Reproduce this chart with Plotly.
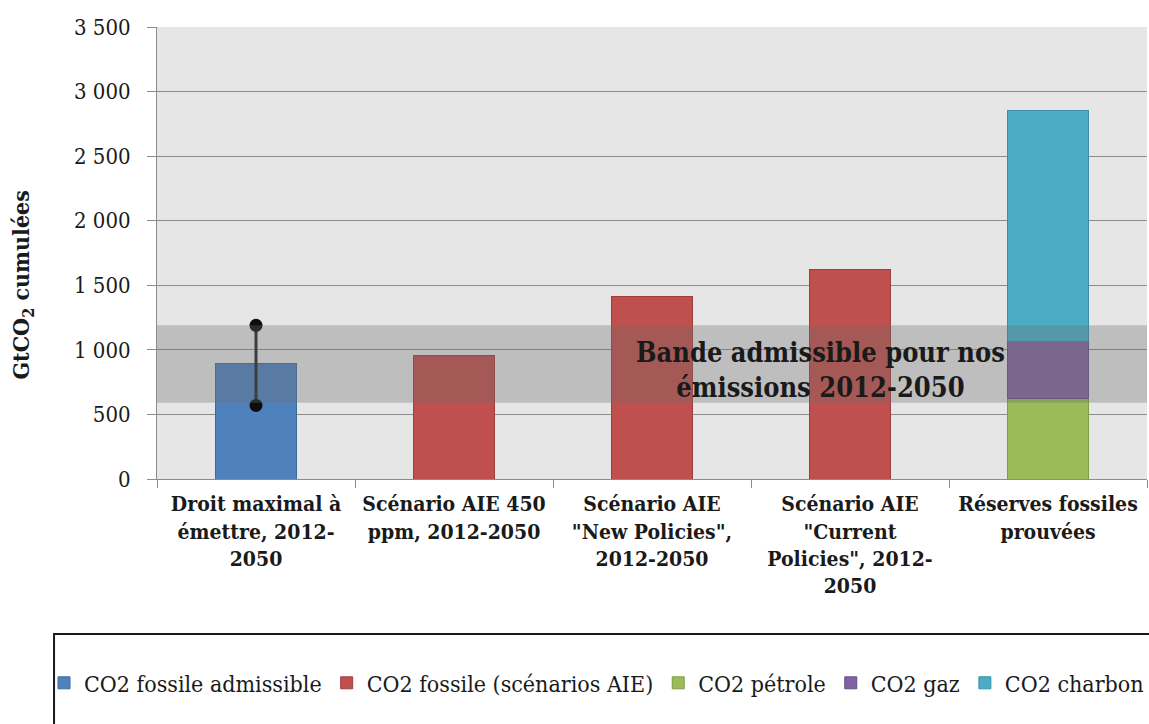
import plotly.graph_objects as go

# ---- data ----
categories = [
    "Droit maximal à<br>émettre, 2012-<br>2050",
    "Scénario AIE 450<br>ppm, 2012-2050",
    "Scénario AIE<br>\"New Policies\",<br>2012-2050",
    "Scénario AIE<br>\"Current<br>Policies\", 2012-<br>2050",
    "Réserves fossiles<br>prouvées",
]
admissible_vals = [895]                 # CO2 fossile admissible
aie_vals = [955, 1410, 1625]            # CO2 fossile (scénarios AIE)
petrole_vals = [620]                    # CO2 pétrole
gaz_vals = [445]                        # CO2 gaz
charbon_vals = [1785]                   # CO2 charbon
range_low_high = [570, 1190]            # fourchette (droit maximal)
band_low_high = [590, 1190]             # bande admissible
y_tickvals = [0, 500, 1000, 1500, 2000, 2500, 3000, 3500]
y_ticktext = ["0", "500", "1 000", "1 500", "2 000", "2 500", "3 000", "3 500"]

FONT = "DejaVu Serif Condensed, DejaVu Serif, serif"

fig = go.Figure()
fig.add_trace(go.Bar(
    x=categories[:1], y=admissible_vals, name="CO2 fossile admissible",
    marker=dict(color="#4F81BD", line=dict(color="#3C6A9E", width=1)),
))
fig.add_trace(go.Bar(
    x=categories[1:4], y=aie_vals, name="CO2 fossile (scénarios AIE)",
    marker=dict(color="#C0504D", line=dict(color="#A03E3B", width=1)),
))
fig.add_trace(go.Bar(
    x=categories[4:], y=petrole_vals, name="CO2 pétrole",
    marker=dict(color="#9BBB59", line=dict(color="#7F9C45", width=1)),
))
fig.add_trace(go.Bar(
    x=categories[4:], y=gaz_vals, name="CO2 gaz",
    marker=dict(color="#8064A2", line=dict(color="#67508A", width=1)),
))
fig.add_trace(go.Bar(
    x=categories[4:], y=charbon_vals, name="CO2 charbon",
    marker=dict(color="#4BACC6", line=dict(color="#3A90A8", width=1)),
))
fig.add_trace(go.Scatter(
    x=[categories[0], categories[0]], y=range_low_high, mode="lines+markers",
    line=dict(color="#262626", width=3),
    marker=dict(color="#0d0d0d", size=13),
    showlegend=False, hoverinfo="skip",
))

# band admissible (semi-transparent, above bars)
fig.add_shape(type="rect", xref="paper", yref="y", x0=0, x1=1,
              y0=band_low_high[0], y1=band_low_high[1],
              fillcolor="rgba(110,110,110,0.33)", line=dict(width=0), layer="above")

# legend frame
fig.add_shape(type="rect", xref="paper", yref="paper",
              x0=-0.104, x1=1.01, y0=-0.343, y1=-0.58,
              line=dict(color="#1a1a1a", width=2), fillcolor="rgba(0,0,0,0)", layer="above")

fig.add_annotation(
    x=0.67, xref="paper", y=845, yref="y",
    text="<b>Bande admissible pour nos<br>émissions 2012-2050</b>",
    showarrow=False, font=dict(family=FONT, size=27, color="#1a1a1a"),
    xanchor="center", yanchor="middle", align="center",
)
fig.add_annotation(
    x=-0.1354, xref="paper", y=0.43, yref="paper",
    text="<b>GtCO<sub>2</sub> cumulées</b>", textangle=-90,
    showarrow=False, font=dict(family=FONT, size=23, color="#1a1a1a"),
    xanchor="center", yanchor="middle",
)

fig.update_layout(
    width=1149, height=724,
    margin=dict(l=157, r=2, t=27, b=245),
    paper_bgcolor="white", plot_bgcolor="#E6E6E6",
    barmode="stack", bargap=0.59,
    font=dict(family=FONT, color="#1a1a1a"),
    showlegend=True,
    legend=dict(
        orientation="h", x=-0.107, xanchor="left", y=-0.451, yanchor="middle",
        font=dict(family=FONT, size=23, color="#1a1a1a"),
        bgcolor="rgba(0,0,0,0)", borderwidth=0, traceorder="normal",
    ),
)
fig.update_xaxes(
    type="category", range=[-0.5, 4.5], showgrid=False,
    showline=True, linecolor="#8c8c8c", linewidth=1,
    ticks="outside", tickson="boundaries", ticklen=8, tickcolor="#8c8c8c",
    tickfont=dict(family=FONT, size=21, color="#1a1a1a", weight="bold"), ticklabelstandoff=6,
)
fig.update_yaxes(
    range=[0, 3500], tickvals=y_tickvals, ticktext=y_ticktext,
    showgrid=True, gridcolor="#8c8c8c", gridwidth=1,
    showline=True, linecolor="#8c8c8c", linewidth=1,
    ticks="outside", ticklen=9, tickcolor="#8c8c8c",
    tickfont=dict(family=FONT, size=22, color="#1a1a1a"), ticklabelstandoff=12,
    zeroline=False,
)

fig.write_html("out.html")
